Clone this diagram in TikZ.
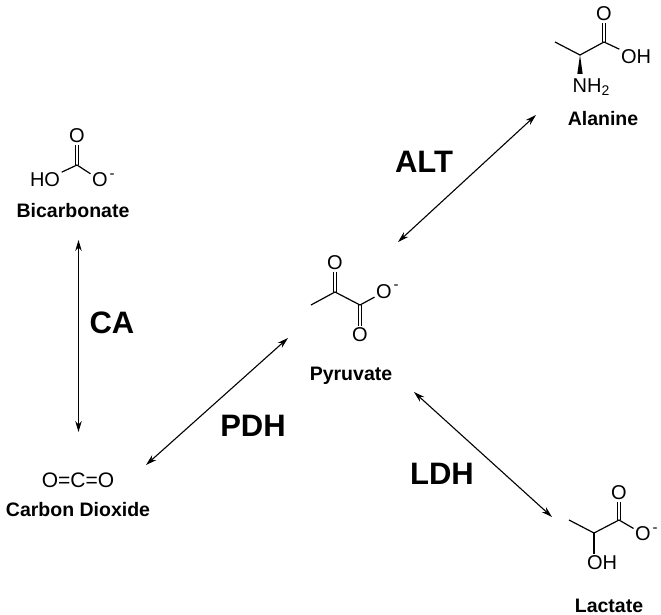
\documentclass[tikz,border=0pt]{standalone}
\usepackage{fontspec}
\setmainfont{Liberation Sans}
\usetikzlibrary{arrows.meta,positioning}
\tikzset{
  atom/.style={font=\fontsize{20}{20}\selectfont,inner sep=1.5pt},
  charge/.style={font=\fontsize{15}{15}\selectfont,inner sep=0pt},
  compound/.style={font=\fontsize{19.5}{20}\selectfont\bfseries,inner sep=0pt},
  enzyme/.style={font=\fontsize{31}{31}\selectfont\bfseries,inner sep=0pt},
  bond/.style={line width=1.2pt},
  dbond/.style={line width=1.1pt,double,double distance=2.4pt},
  rxn/.style={line width=1.1pt,{Stealth[length=11pt,width=6.5pt]}-{Stealth[length=11pt,width=6.5pt]}}
}

\begin{document}
\begin{tikzpicture}[x=1pt,y=-1pt]
  \useasboundingbox (0,0) rectangle (661,615);
  % names and enzymes
  \foreach \nm/\xx/\yy/\lab in {namAla/603/119/Alanine,namBic/73/211/Bicarbonate,namPyr/351/376/Pyruvate,namCO/78/510/Carbon Dioxide,namLac/609/605.5/Lactate}{
    \node[compound] (\nm) at (\xx,\yy) {\lab};
  }
  \foreach \nm/\xx/\yy/\lab in {enzALT/424/162/ALT,enzCA/112/323/CA,enzPDH/253/426/PDH,enzLDH/442/474/LDH}{
    \node[enzyme] (\nm) at (\xx,\yy) {\lab};
  }
  % reaction arrows
  \coordinate (altA) at (398,242);
  \coordinate (altB) at (536,115);
  \coordinate (caA) at (78.5,240);
  \coordinate (caB) at (78.5,432);
  \coordinate (pdhA) at (146,465);
  \coordinate (pdhB) at (288,338);
  \coordinate (ldhA) at (414,392);
  \coordinate (ldhB) at (552,517);
  \draw[rxn] (altA) -- (altB);
  \draw[rxn] (caA) -- (caB);
  \draw[rxn] (pdhA) -- (pdhB);
  \draw[rxn] (ldhA) -- (ldhB);
  % alanine
  \node[atom] (alaO) at (604,14) {O};
  \node[atom] (alaOH) at (636,57) {OH};
  \node[atom,anchor=west] (alaNH) at (571,87) {NH\textsubscript{2}};
  \coordinate (alaC) at (604,42);
  \coordinate (alaCH) at (580,55);
  \coordinate (alaMe) at (555,42);
  \coordinate (alaWl) at (577.3,74);
  \coordinate (alaWr) at (582.7,74);
  \draw[dbond] (alaC) -- (alaO);
  \draw[bond] (alaC) -- (alaOH);
  \draw[bond] (alaMe) -- (alaCH) -- (alaC);
  \fill (alaCH) -- (alaWl) -- (alaWr) -- cycle;
  % bicarbonate
  \node[atom] (bicO) at (77,136) {O};
  \node[atom] (bicHO) at (45,180) {HO};
  \node[atom] (bicOm) at (100,180) {O};
  \node[charge] (bicMin) at (112,176) {-};
  \coordinate (bicC) at (77,165);
  \draw[dbond] (bicC) -- (bicO);
  \draw[bond] (bicC) -- (bicHO);
  \draw[bond] (bicC) -- (bicOm);
  % pyruvate
  \node[atom] (pyrO) at (335,263) {O};
  \node[atom] (pyrOb) at (360,335) {O};
  \node[atom] (pyrOm) at (384,292) {O};
  \node[charge] (pyrMin) at (396,287) {-};
  \coordinate (pyrC) at (335,292);
  \coordinate (pyrCb) at (360,305);
  \coordinate (pyrMe) at (311,305);
  \draw[dbond] (pyrC) -- (pyrO);
  \draw[dbond] (pyrCb) -- (pyrOb);
  \draw[bond] (pyrMe) -- (pyrC) -- (pyrCb);
  \draw[bond] (pyrCb) -- (pyrOm);
  % carbon dioxide
  \node[atom,font=\fontsize{21}{21}\selectfont] (coMol) at (78,480) {O=C=O};
  % lactate
  \node[atom] (lacO) at (619,493) {O};
  \node[atom] (lacOm) at (643,534) {O};
  \node[charge] (lacMin) at (655,530) {-};
  \node[atom] (lacOH) at (602,563) {OH};
  \coordinate (lacC) at (619,520);
  \coordinate (lacCH) at (594,533);
  \coordinate (lacMe) at (569,520);
  \draw[dbond] (lacC) -- (lacO);
  \draw[bond] (lacMe) -- (lacCH) -- (lacC);
  \draw[bond] (lacC) -- (lacOm);
  \draw[bond] (lacCH) -- (lacCH |- lacOH.north);
\end{tikzpicture}
\end{document}
